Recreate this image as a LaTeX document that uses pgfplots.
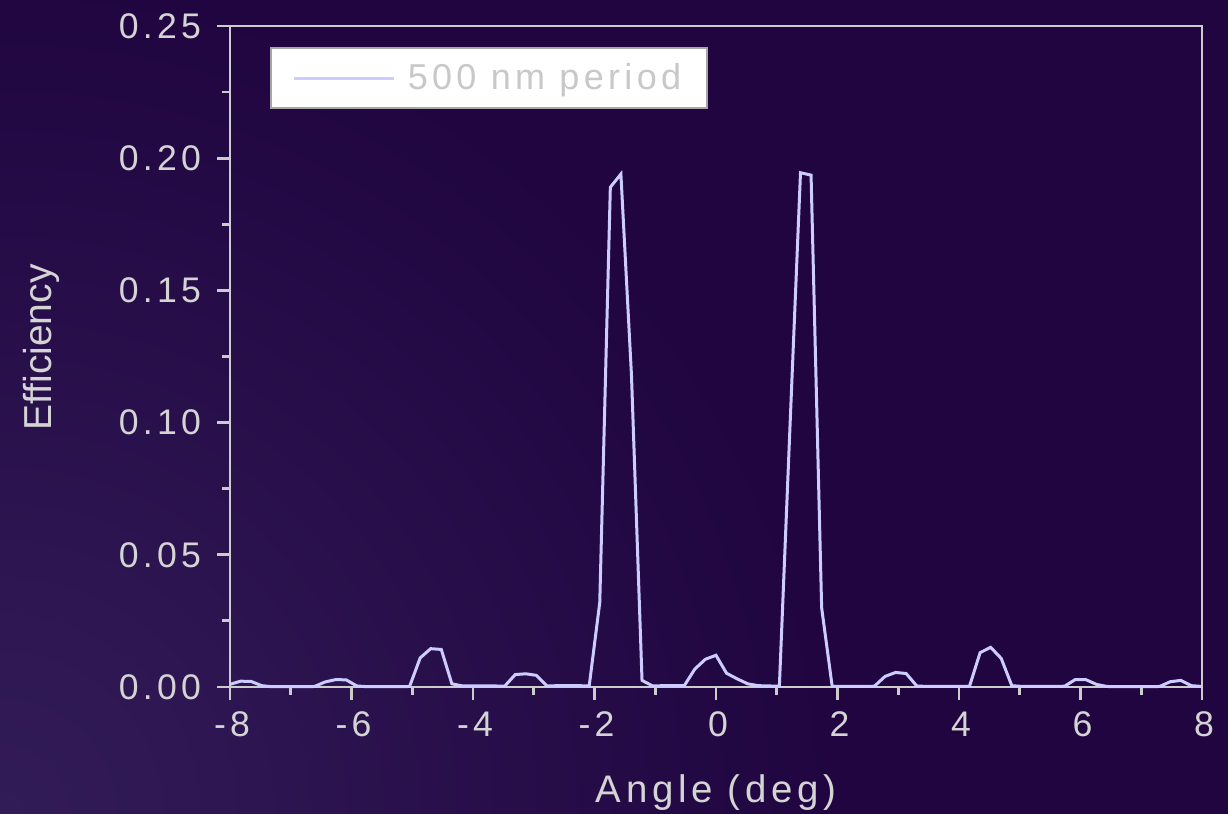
\documentclass[border=0pt]{standalone}
\usepackage{pgfplots}
\usepackage{pgfplotstable}
\pgfplotsset{compat=1.18}
\usepackage{fontspec}
\setmainfont{Liberation Sans}
\newfontfamily\spaced[LetterSpace=12]{Liberation Sans}
\definecolor{bg}{RGB}{32,5,64}
\definecolor{bglight}{RGB}{50,28,88}
\definecolor{axgray}{RGB}{204,204,204}
\definecolor{lav}{RGB}{204,204,255}
\definecolor{txt}{RGB}{212,212,212}
\definecolor{legtxt}{RGB}{200,200,200}

\pgfplotstableread{
x y
-8.0000 0.0010
-7.8261 0.0022
-7.6522 0.0021
-7.4783 0.0005
-7.3043 0.0001
-7.1304 0.0001
-6.9565 0.0001
-6.7826 0.0001
-6.6087 0.0002
-6.4348 0.0019
-6.2609 0.0028
-6.0870 0.0027
-5.9130 0.0004
-5.7391 0.0001
-5.5652 0.0001
-5.3913 0.0001
-5.2174 0.0001
-5.0435 0.0002
-4.8696 0.0110
-4.6957 0.0145
-4.5217 0.0142
-4.3478 0.0012
-4.1739 0.0004
-4.0000 0.0004
-3.8261 0.0004
-3.6522 0.0004
-3.4783 0.0003
-3.3043 0.0047
-3.1304 0.0050
-2.9565 0.0044
-2.7826 0.0004
-2.6087 0.0005
-2.4348 0.0005
-2.2609 0.0005
-2.0870 0.0004
-1.9130 0.0320
-1.7391 0.1890
-1.5652 0.1940
-1.3913 0.1180
-1.2174 0.0025
-1.0435 0.0004
-0.8696 0.0005
-0.6957 0.0005
-0.5217 0.0005
-0.3478 0.0068
-0.1739 0.0105
0.0000 0.0120
0.1739 0.0052
0.3478 0.0031
0.5217 0.0012
0.6957 0.0005
0.8696 0.0004
1.0435 0.0003
1.2174 0.0980
1.3913 0.1945
1.5652 0.1936
1.7391 0.0300
1.9130 0.0002
2.0870 0.0002
2.2609 0.0002
2.4348 0.0002
2.6087 0.0003
2.7826 0.0040
2.9565 0.0055
3.1304 0.0051
3.3043 0.0004
3.4783 0.0002
3.6522 0.0002
3.8261 0.0002
4.0000 0.0002
4.1739 0.0003
4.3478 0.0130
4.5217 0.0150
4.6957 0.0108
4.8696 0.0005
5.0435 0.0002
5.2174 0.0002
5.3913 0.0002
5.5652 0.0002
5.7391 0.0003
5.9130 0.0028
6.0870 0.0028
6.2609 0.0010
6.4348 0.0002
6.6087 0.0001
6.7826 0.0001
6.9565 0.0001
7.1304 0.0001
7.3043 0.0002
7.4783 0.0020
7.6522 0.0025
7.8261 0.0005
8.0000 0.0002
}\data

\begin{document}
\begin{tikzpicture}
\path[use as bounding box] (-115pt,-63.5pt) rectangle (499pt,343.5pt);
\fill[bg] (-115pt,-63.5pt) rectangle (499pt,343.5pt);
\begin{scope}
\clip (-115pt,-63.5pt) rectangle (499pt,343.5pt);
\shade[inner color=bglight, outer color=bg] (-115pt,-63.5pt) circle (420pt);
\end{scope}
\begin{axis}[
  at={(0pt,0pt)}, anchor=south west,
  scale only axis, width=486pt, height=330.5pt,
  xmin=-8, xmax=8, ymin=0, ymax=0.25,
  xtick={-8,-6,-4,-2,0,2,4,6,8},
  xticklabels={-8,-6,-4,-2,0,2,4,6,8},
  ytick={0,0.05,0.1,0.15,0.2,0.25},
  yticklabels={0.00,0.05,0.10,0.15,0.20,0.25},
  minor x tick num=1, minor y tick num=1,
  tick pos=left, tick align=outside,
  major tick length=6.5pt, minor tick length=4pt,
  axis line style={axgray, line width=1.4pt},
  every tick/.style={axgray, line width=1.4pt},
  tick label style={font=\spaced\fontsize{17.8}{20}\selectfont, text=txt},
  xticklabel style={yshift=-2.5pt, xshift=1pt},
  yticklabel style={xshift=-4.5pt},
  xlabel={Angle (deg)},
  ylabel={Efficiency},
  every axis x label/.style={at={(axis description cs:0.5,0)}, anchor=center, yshift=-53pt, font=\spaced\fontsize{19.2}{22}\selectfont, text=txt},
  every axis y label/.style={at={(axis description cs:0,0.5)}, xshift=-94.5pt, yshift=4.5pt, rotate=90, anchor=center, font=\fontsize{19.5}{22}\selectfont, text=txt},
  clip=false,
  legend style={at={(rel axis cs:0.0412,0.968)}, anchor=north west, fill=white, draw=gray!70, line width=0.8pt, font=\spaced\fontsize{18}{21}\selectfont, text=legtxt, inner xsep=11pt, inner ysep=5.8pt},
  legend image code/.code={\draw[#1, line width=1.5pt] (0pt,0pt) -- (50pt,0pt); \path (54pt,0pt);},
]
\addplot[lav, line width=1.5pt] table[x=x, y=y] {\data};
\addlegendentry{500 nm period\hspace{4pt}}
\end{axis}
\end{tikzpicture}
\end{document}
